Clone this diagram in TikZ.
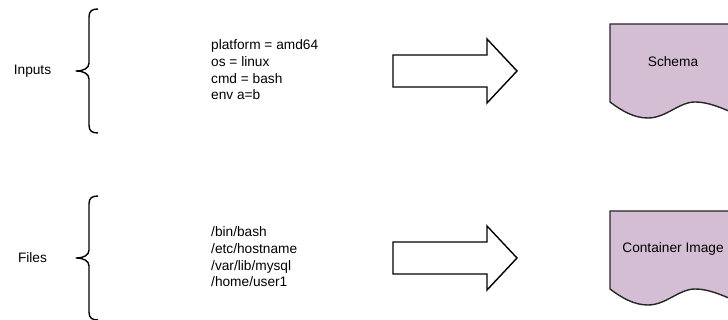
\documentclass[tikz,border=0pt]{standalone}
\usepackage{fontspec}
\setmainfont{Liberation Sans}
\definecolor{docfill}{RGB}{212,190,212}

\begin{document}
\begin{tikzpicture}[x=1pt,y=-1pt,
    txt/.style={font=\fontsize{13.7}{16.6}\selectfont, inner sep=0pt},
    listing/.style={txt, align=left, anchor=west},
    bracket/.style={line width=1.4pt, line join=round},
    blockarrow/.style={draw, fill=white, line width=1.4pt, line join=miter},
    doc/.style={draw=black!85, fill=docfill, line width=1.4pt}]

\clip (0,0) rectangle (728,320);

% braces, block arrows and documents, one row each
\foreach \y in {71,258} {
        \draw[bracket] (98,\y-62) .. controls (92,\y-62) and (89,\y-60) .. (89,\y-54)
                -- (89,\y-8) .. controls (89,\y-3) and (84,\y) .. (76,\y)
                .. controls (84,\y) and (89,\y+3) .. (89,\y+8)
                -- (89,\y+54) .. controls (89,\y+60) and (92,\y+62) .. (98,\y+62);

        \draw[blockarrow] (393,\y-16) -- (487,\y-16) -- (487,\y-32) -- (517,\y)
                -- (487,\y+32) -- (487,\y+16) -- (393,\y+16) -- cycle;

        \filldraw[doc] (610,\y-47) -- (745,\y-47) -- (745,\y+47)
                .. controls (730,\y+41) and (712,\y+31) .. (695,\y+31)
                .. controls (679,\y+31) and (666,\y+47) .. (648,\y+47)
                .. controls (634,\y+47) and (622,\y+40) .. (610,\y+31) -- cycle;
 }

\node[txt] (inputs) at (32.5,71) {Inputs};
\node[txt] (files) at (32.5,258) {Files};

\node[listing] (inputlist) at (211,70) {platform = amd64\\os = linux\\cmd = bash\\env a=b};
\node[listing] (filelist) at (211,257) {/bin/bash\\/etc/hostname\\/var/lib/mysql\\/home/user1};

\node[txt] (schema) at (673,62) {Schema};
\node[txt] (image) at (673,249) {Container Image};

\end{tikzpicture}
\end{document}
